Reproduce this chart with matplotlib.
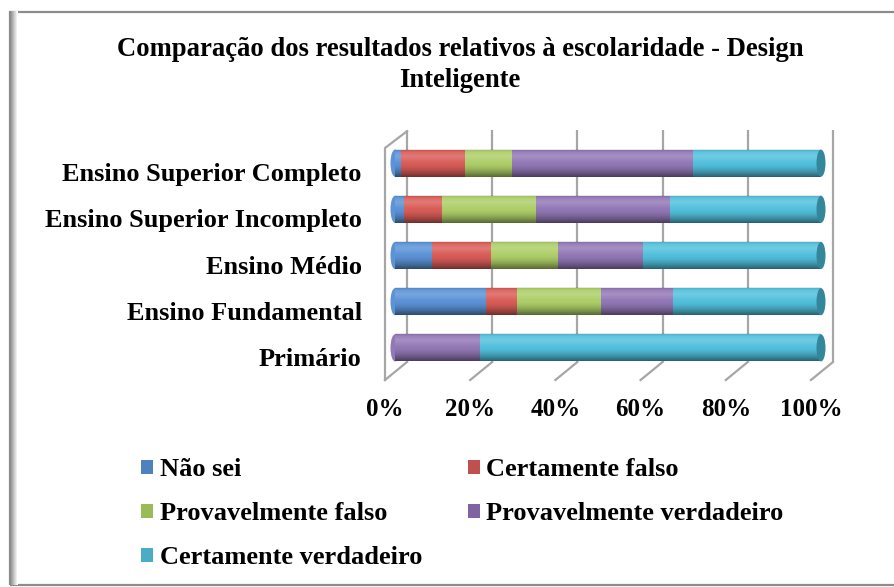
import matplotlib
matplotlib.use('Agg')
import matplotlib.pyplot as plt
import numpy as np
from matplotlib.patches import Ellipse, Rectangle
from matplotlib.transforms import ScaledTranslation, blended_transform_factory

# ---------------- data ----------------
categories = ['Primário', 'Ensino Fundamental', 'Ensino Médio',
              'Ensino Superior Incompleto', 'Ensino Superior Completo']
series_names = ['Não sei', 'Certamente falso', 'Provavelmente falso',
                'Provavelmente verdadeiro', 'Certamente verdadeiro']
nao_sei = [0.0, 21.4, 8.6, 2.0, 1.5]
certamente_falso = [0.0, 7.2, 13.9, 9.0, 15.0]
provavelmente_falso = [0.0, 19.7, 15.8, 22.0, 11.0]
provavelmente_verdadeiro = [20.0, 16.9, 20.0, 31.5, 42.5]
certamente_verdadeiro = [80.0, 34.8, 41.7, 35.5, 30.0]
xticks = [0, 20, 40, 60, 80, 100]
xtick_labels = ['0%', '20%', '40%', '60%', '80%', '100%']
title = 'Comparação dos resultados relativos à escolaridade - Design\nInteligente'

series_values = [nao_sei, certamente_falso, provavelmente_falso,
                 provavelmente_verdadeiro, certamente_verdadeiro]
colors = ['#4F81BD', '#C0504D', '#9BBB59', '#8064A2', '#4BACC6']
bar_colors = ['#5B93D6', '#D95D58', '#ADCE68', '#9278B6', '#52C0DC']
end_cap_color = '#34869B'

FONT = ['Liberation Serif', 'DejaVu Serif']
plt.rcParams['font.family'] = FONT

W, H, DPI = 894, 587, 100
fig = plt.figure(figsize=(W / DPI, H / DPI), dpi=DPI, facecolor='white')

# axes placement in pixels
ax_l, ax_r, ax_t, ax_b = 395, 821, 130, 380
ax = fig.add_axes([ax_l / W, 1 - ax_b / H, (ax_r - ax_l) / W, (ax_b - ax_t) / H])
ax.set_facecolor('none')
for s in ax.spines.values():
    s.set_visible(False)

pitch = 46.0
ax.set_xlim(0, 100)
ax.set_ylim(-(32 / pitch), len(categories) - 1 + 33 / pitch)
px_per_unit = (ax_r - ax_l) / 100.0
bar_h = 27 / pitch
cap_w = 9 / px_per_unit

# back/front offsets (pixels)
back_dx = 12
front_dx = -10
floor_frac = (ax_b - 362) / (ax_b - ax_t)
grid_col = '#A6A6A6'

bt = blended_transform_factory(ax.transData, ax.transAxes)
for t in xticks:
    xb = t + back_dx / px_per_unit
    xf = t + front_dx / px_per_unit
    ax.plot([xb, xb], [floor_frac, 1.0], transform=bt, color=grid_col, lw=1.6,
            clip_on=False, zorder=0, solid_capstyle='butt')
    ax.plot([xb, xf], [floor_frac, 0.0], transform=bt, color=grid_col, lw=1.6,
            clip_on=False, zorder=0)
# left wall
x_front0 = 0 + front_dx / px_per_unit
x_back0 = 0 + back_dx / px_per_unit
wall_top = (ax_b - 148) / (ax_b - ax_t)
ax.plot([x_front0, x_front0, x_back0], [0.0, wall_top, 0.995], transform=bt,
        color=grid_col, lw=1.6, clip_on=False, zorder=0)

# shading gradient for cylinder look
N = 60
tt = np.linspace(0, 1, N)
grad = np.zeros((N, 1, 4))
for i, v in enumerate(tt):
    if v < 0.08:
        grad[i] = [0, 0, 0, 0.12 * (1 - v / 0.08)]
    elif v < 0.5:
        grad[i] = [1, 1, 1, 0.18 * (1 - abs(v - 0.25) / 0.25) if abs(v - 0.25) < 0.25 else 0]
    else:
        grad[i] = [0, 0, 0, 0.5 * ((v - 0.5) / 0.5) ** 1.6]

for ci, cat in enumerate(categories):
    left = 0.0
    first_col = None
    for si, vals in enumerate(series_values):
        v = vals[ci]
        if v <= 0:
            continue
        if first_col is None:
            first_col = bar_colors[si]
        ax.barh(ci, v, left=left, height=bar_h, color=bar_colors[si],
                edgecolor='none', zorder=2)
        left += v
    y0, y1 = ci - bar_h / 2, ci + bar_h / 2
    # left cap
    lc = Ellipse((0, ci), cap_w, bar_h, facecolor=first_col, edgecolor='none',
                 zorder=1.9, clip_on=False)
    ax.add_patch(lc)
    im = ax.imshow(grad, extent=[-cap_w / 2, 0.5, y0, y1], aspect='auto',
                   zorder=1.95, origin='upper', interpolation='bilinear')
    im.set_clip_path(lc)
    # body shading
    ax.imshow(grad, extent=[0, left, y0, y1], aspect='auto', zorder=3,
              origin='upper', interpolation='bilinear')
    # right cap
    rc = Ellipse((left, ci), cap_w, bar_h, facecolor=end_cap_color,
                 edgecolor='none', zorder=4, clip_on=False)
    ax.add_patch(rc)

ax.set_xlim(0, 100)
ax.set_ylim(-(32 / pitch), len(categories) - 1 + 33 / pitch)

# ticks
ax.set_yticks(range(len(categories)))
ax.set_yticklabels(categories)
ax.set_xticks(xticks)
ax.set_xticklabels(xtick_labels)
ax.tick_params(axis='both', length=0)
ax.tick_params(axis='y', pad=24, labelsize=19)
ax.tick_params(axis='x', pad=13, labelsize=18)
for lab in ax.get_yticklabels():
    lab.set_fontweight('bold')
    lab.set_transform(lab.get_transform() + ScaledTranslation(0, -9 / DPI, fig.dpi_scale_trans))
for lab in ax.get_xticklabels():
    lab.set_fontweight('bold')
    lab.set_transform(lab.get_transform() + ScaledTranslation(front_dx / DPI, 0, fig.dpi_scale_trans))

# title
fig.text(460 / W, 1 - 65 / H, title, ha='center', va='center', fontsize=19.2,
         fontweight='bold', linespacing=1.27)

# legend (row-wise ordering)
handles = [Rectangle((0, 0), 1, 1, facecolor=c, edgecolor='none') for c in colors]
order = [0, 2, 4, 1, 3]
leg = fig.legend([handles[i] for i in order], [series_names[i] for i in order],
                 loc='upper left', bbox_to_anchor=(128 / W, 1 - 445 / H), ncol=2,
                 frameon=False, prop={'family': FONT, 'weight': 'bold', 'size': 19},
                 handlelength=0.45, handleheight=0.45, handletextpad=0.25,
                 columnspacing=1.74, labelspacing=0.80, borderpad=0)

# outer frame with left shadow
frame = Rectangle((10 / W, 2 / H), 1.2, (585 - 12) / H, transform=fig.transFigure,
                  facecolor='none', edgecolor='#8C8C8C', lw=1.6, zorder=0)
fig.patches.append(frame)
shade = np.ones((574, 8, 3))
for k in range(8):
    shade[:, k, :] = 0.55 + 0.45 * (k / 7)
fig.figimage(shade, xo=10, yo=H - 585, zorder=1)

fig.savefig('out.png', dpi=DPI, facecolor='white')
